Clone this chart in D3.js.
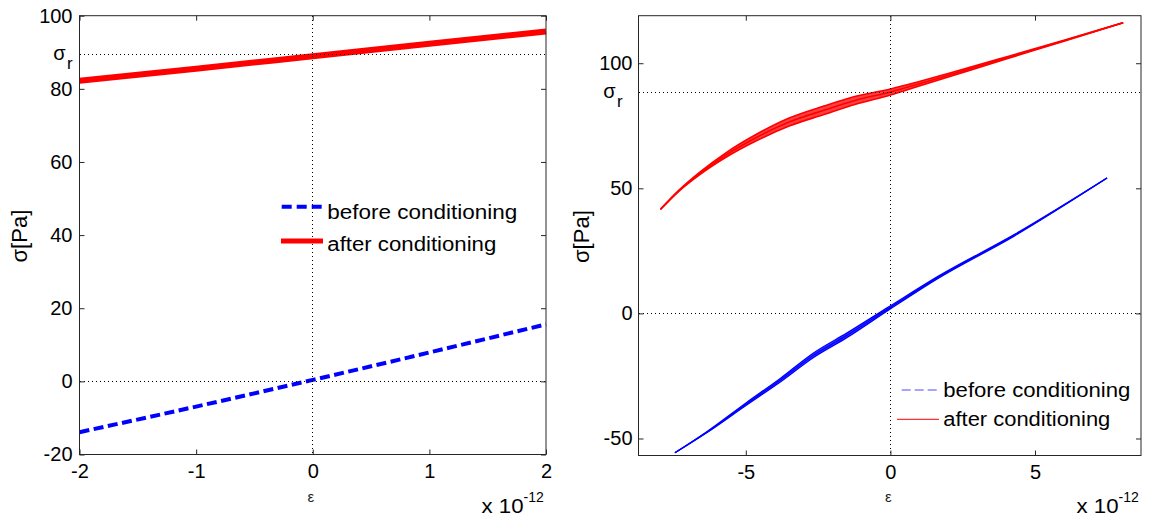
<!DOCTYPE html>
<html><head><meta charset="utf-8">
<script src="https://cdn.jsdelivr.net/npm/d3@7"></script>
<style>
body{margin:0;background:#fff}
svg{display:block}
text{font-family:"Liberation Sans",Arial,Helvetica,sans-serif}
</style>
</head><body>
<svg id="c" width="1153" height="522"></svg>
<script>
// ---------- Left panel data ----------
const leftStrain = [-2, -1, 0, 1, 2];              // x 10^-12
const leftBefore = [-13.9, -6.9, 0.4, 7.9, 15.6];  // σ [Pa]
const leftAfter  = [82.2, 85.5, 88.9, 92.3, 95.7];
const leftSigmaR = 89.3;
const leftXTicks = [-2, -1, 0, 1, 2];
const leftYTicks = [-20, 0, 20, 40, 60, 80, 100];

// ---------- Right panel data ----------
const rightRedStrain = [-7.95, -7.3, -6.6, -5.7, -4.6, -3.5, -2.3, -1.2, 0, 1, 2, 4, 6, 8.05];
const rightRedUpper  = [41.6, 49.4, 56.4, 64.1, 71.8, 78.1, 82.9, 86.8, 89.7, 92.7, 95.9, 102.5, 109.2, 116.2];
const rightRedMid    = [41.6, 49.2, 55.9, 63.2, 70.5, 76.5, 81.2, 85.2, 88.5, 91.8, 95.2, 102.1, 109.0, 116.2];
const rightRedLower  = [41.6, 49.0, 55.4, 62.3, 69.2, 74.9, 79.5, 83.6, 87.3, 90.9, 94.5, 101.7, 108.8, 116.2];
const rightBlueStrain = [-7.45, -6.35, -4.97, -3.82, -2.67, -1.51, -0.07, 1.66, 4.28, 7.49];
const rightBlueUpper  = [-55.7, -47.3, -35.6, -26.1, -15.9, -7.9, 2.5, 14.9, 31.5, 54.1];
const rightBlueMid    = [-55.7, -47.5, -36.1, -26.8, -16.8, -8.8, 1.9, 14.5, 31.2, 54.1];
const rightBlueLower  = [-55.7, -47.7, -36.6, -27.5, -17.7, -9.7, 1.3, 14.1, 30.9, 54.1];
const rightSigmaR = 88.2;
const rightXTicks = [-5, 0, 5];
const rightYTicks = [-50, 0, 50, 100];

const legendLabels = ["before conditioning", "after conditioning"];
const xLabel = "ε";
const yLabel = "σ[Pa]";

const svg = d3.select("#c");
const AX = "#262626";
const fmt = d => String(d);
const px = v => Math.round(v - 0.5) + 0.5;

function panel(cfg) {
  const g = svg.append("g");
  const x = d3.scaleLinear().domain(cfg.xDomain).range([cfg.left, cfg.right]);
  const y = d3.scaleLinear().domain(cfg.yDomain).range([cfg.bottom, cfg.top]);

  // bands (loops) filled between outer branches
  (cfg.bands || []).forEach(b => {
    const area = d3.area().x((d, i) => x(b.xs[i])).y0((d, i) => y(b.lo[i])).y1(d => y(d)).curve(d3.curveMonotoneX);
    g.append("path").datum(b.hi).attr("d", area).attr("fill", b.color).attr("fill-opacity", 0.75);
  });

  // data series
  cfg.series.forEach(s => {
    const line = d3.line().x((d, i) => x(s.xs[i])).y(d => y(d)).curve(d3.curveMonotoneX);
    g.append("path").datum(s.ys)
      .attr("d", line).attr("fill", "none")
      .attr("stroke", s.color).attr("stroke-width", s.width)
      .attr("stroke-dasharray", s.dash || null)
      .attr("stroke-linejoin", "round");
  });

  // dotted reference lines (drawn on top, like the original)
  const dot = (x1, y1, x2, y2) => g.append("line")
    .attr("x1", x1).attr("y1", y1).attr("x2", x2).attr("y2", y2)
    .attr("stroke", "#000").attr("stroke-width", 1).attr("stroke-dasharray", "1,3")
    .attr("shape-rendering", "crispEdges");
  dot(cfg.left, px(y(0)), cfg.right, px(y(0)));
  dot(cfg.left, px(y(cfg.sigmaR)), cfg.right, px(y(cfg.sigmaR)));
  dot(px(x(0)), cfg.top, px(x(0)), cfg.bottom);

  // box
  g.append("rect").attr("x", cfg.left).attr("y", cfg.top)
    .attr("width", cfg.right - cfg.left).attr("height", cfg.bottom - cfg.top)
    .attr("fill", "none").attr("stroke", AX).attr("stroke-width", 1);

  const style = sel => {
    sel.select(".domain").remove();
    sel.selectAll(".tick line").attr("stroke", AX);
    sel.attr("font-size", 20).attr("font-family", '"Liberation Sans",Arial,sans-serif');
    sel.selectAll("text").attr("fill", "#000");
  };
  g.append("g").attr("transform", `translate(0,${cfg.bottom})`)
    .call(d3.axisBottom(x).tickValues(cfg.xTicks).tickSize(-5).tickPadding(9).tickFormat(fmt)).call(style);
  g.append("g").attr("transform", `translate(0,${cfg.top})`)
    .call(d3.axisTop(x).tickValues(cfg.xTicks).tickSize(-5).tickFormat("")).call(style);
  g.append("g").attr("transform", `translate(${cfg.left},0)`)
    .call(d3.axisLeft(y).tickValues(cfg.yTicks).tickSize(-5).tickPadding(cfg.yPad).tickFormat(fmt)).call(style);
  g.append("g").attr("transform", `translate(${cfg.right},0)`)
    .call(d3.axisRight(y).tickValues(cfg.yTicks).tickSize(-5).tickFormat("")).call(style);

  // sigma_r label
  const sy = y(cfg.sigmaR);
  g.append("text").attr("x", cfg.sigmaX).attr("y", sy + 4.8)
    .attr("text-anchor", "end").attr("font-size", 20).text("σ");
  g.append("text").attr("x", cfg.sigmaX + 1.5).attr("y", sy + 14.5)
    .attr("font-size", 17).text("r");

  // y label
  g.append("text").attr("transform", `translate(${cfg.yLabelX},${(cfg.top + cfg.bottom) / 2 + 1}) rotate(-90)`)
    .attr("text-anchor", "middle").attr("font-size", 22).text(yLabel);

  // x label
  g.append("text").attr("x", x(0) - 2).attr("y", 502)
    .attr("text-anchor", "middle").attr("font-size", 15).attr("fill", "#222").text(xLabel);

  // exponent
  g.append("text").attr("x", cfg.right - 64.5).attr("y", 513.3)
    .attr("font-size", 20).attr("textLength", 42).attr("lengthAdjust", "spacingAndGlyphs").text("x 10");
  g.append("text").attr("x", cfg.right - 22.5).attr("y", 501.5)
    .attr("font-size", 14).text("-12");

  // legend
  cfg.legend.forEach((L, i) => {
    g.append("line").attr("x1", L.x1).attr("x2", L.x2).attr("y1", L.ly).attr("y2", L.ly)
      .attr("stroke", L.color).attr("stroke-width", L.width).attr("stroke-dasharray", L.dash || null);
    g.append("text").attr("x", L.tx).attr("y", L.ty).attr("font-size", 20)
      .attr("textLength", L.tl).attr("lengthAdjust", "spacingAndGlyphs").text(legendLabels[i]);
  });
}

panel({
  left: 79.5, right: 546, top: 15.7, bottom: 454.5,
  xDomain: [-2, 2], yDomain: [-20, 100],
  xTicks: leftXTicks, yTicks: leftYTicks, yPad: 7,
  sigmaR: leftSigmaR, sigmaX: 65.5, yLabelX: 27,
  series: [
    {xs: leftStrain, ys: leftBefore, color: "#0000ff", width: 4, dash: "10,4.5"},
    {xs: leftStrain, ys: leftAfter, color: "#ff0000", width: 6}
  ],
  legend: [
    {x1: 281.7, x2: 321.7, ly: 206.7, color: "#0000ff", width: 4, dash: "10,5", tx: 327.3, ty: 219.3, tl: 190},
    {x1: 281, x2: 323, ly: 241, color: "#ff0000", width: 5, tx: 327.3, ty: 250.5, tl: 169}
  ]
});

panel({
  left: 638.5, right: 1141, top: 15.7, bottom: 455.5,
  xDomain: [-8.71, 8.665], yDomain: [-56.8, 119],
  xTicks: rightXTicks, yTicks: rightYTicks, yPad: 6,
  sigmaR: rightSigmaR, sigmaX: 615.5, yLabelX: 589,
  bands: [
    {xs: rightBlueStrain, hi: rightBlueUpper, lo: rightBlueLower, color: "#0000ff"},
    {xs: rightRedStrain, hi: rightRedUpper, lo: rightRedLower, color: "#ff0000"}
  ],
  series: [
    {xs: rightBlueStrain, ys: rightBlueUpper, color: "#0000ff", width: 1.3},
    {xs: rightBlueStrain, ys: rightBlueMid, color: "#0000ff", width: 1.3},
    {xs: rightBlueStrain, ys: rightBlueLower, color: "#0000ff", width: 1.3},
    {xs: rightRedStrain, ys: rightRedUpper, color: "#ff0000", width: 1.6},
    {xs: rightRedStrain, ys: rightRedMid, color: "#ff0000", width: 1.6},
    {xs: rightRedStrain, ys: rightRedLower, color: "#ff0000", width: 1.6}
  ],
  legend: [
    {x1: 901.7, x2: 939.3, ly: 390, color: "#4a4aff", width: 1, dash: "9,4", tx: 943.3, ty: 396.7, tl: 187},
    {x1: 897, x2: 939, ly: 419.3, color: "#ff0000", width: 1, tx: 943.3, ty: 426, tl: 167}
  ]
});
</script>
</body></html>
